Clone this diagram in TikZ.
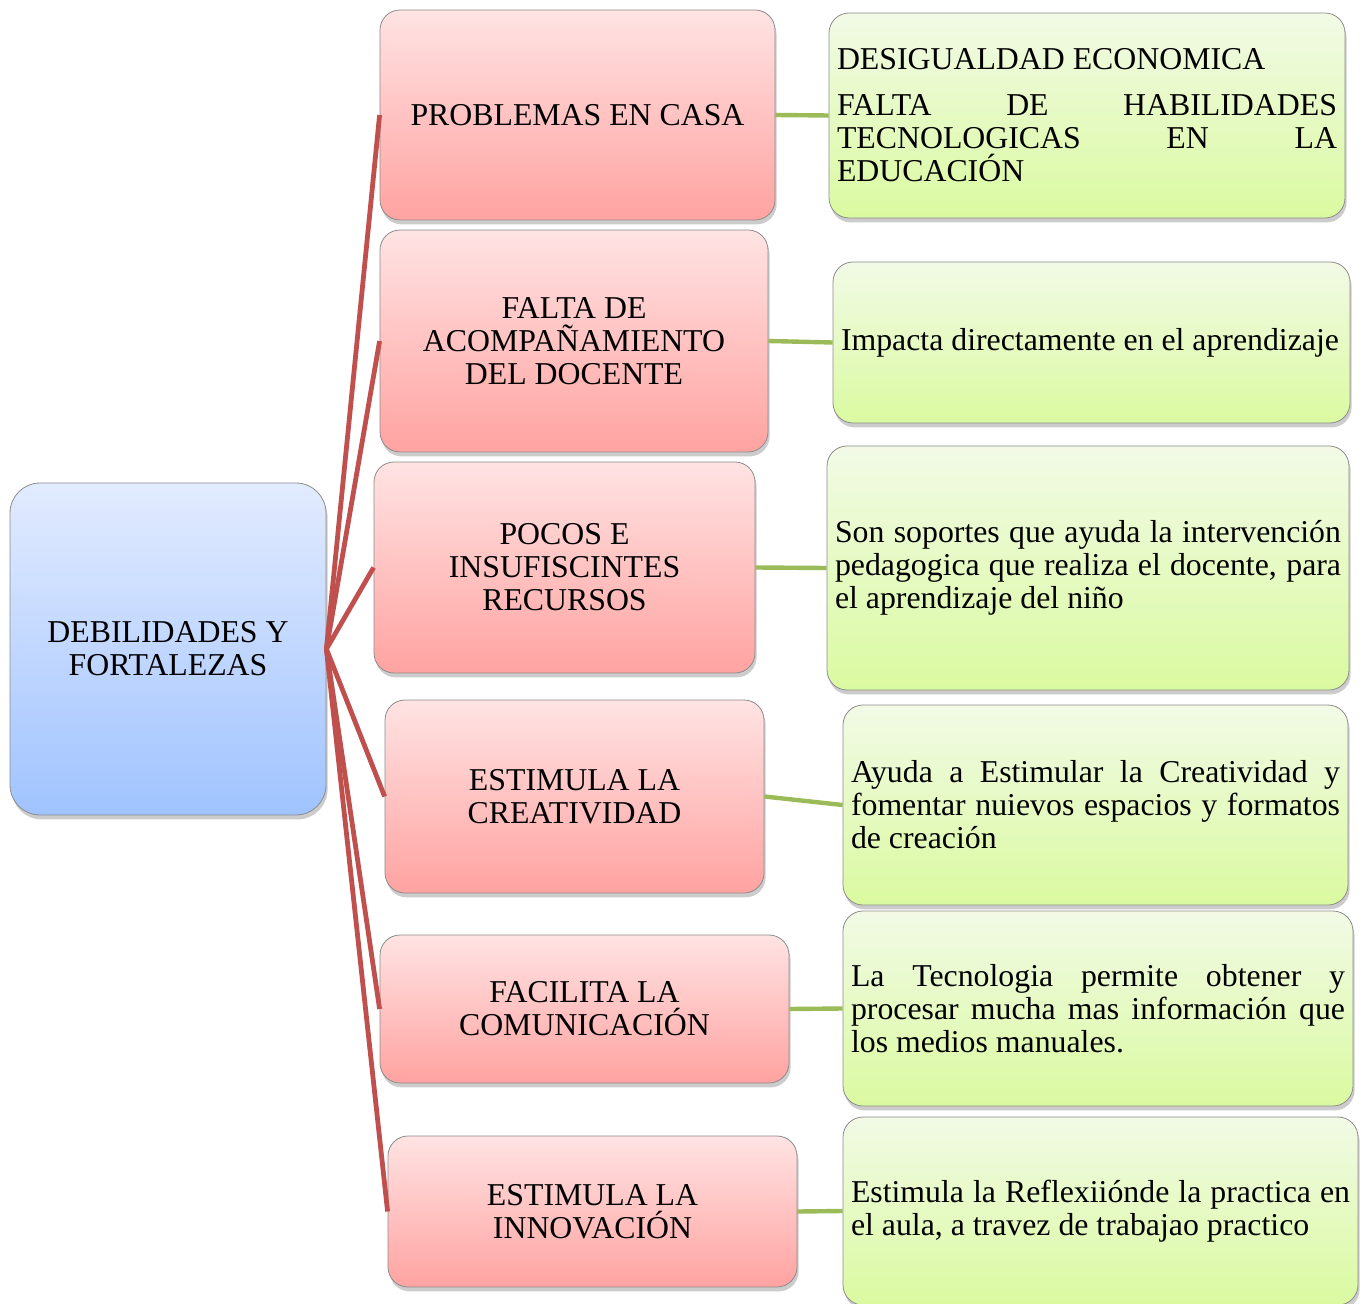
\documentclass[tikz,border=0pt]{standalone}
\usepackage{fontspec}
\setmainfont{Liberation Serif}
\usetikzlibrary{shadows}
\definecolor{rama}{RGB}{192,80,77}
\definecolor{hoja}{RGB}{155,187,89}
\hbadness=10000 \hfuzz=2pt

\begin{document}
\begin{tikzpicture}[x=0.5pt,y=-0.5pt,
    caja/.style={draw=gray!90,thin,rounded corners=10pt,
      drop shadow={shadow xshift=0.8pt,shadow yshift=-2.2pt,opacity=0.4},
      font=\fontsize{15.9pt}{16.5pt}\selectfont,inner sep=0pt},
    raiz/.style={caja,rounded corners=15pt,top color={rgb,255:red,226;green,235;blue,255},bottom color={rgb,255:red,160;green,195;blue,255},align=center},
    tema/.style={caja,top color={rgb,255:red,255;green,227;blue,227},bottom color={rgb,255:red,255;green,163;blue,161},align=center},
    nota/.style={caja,top color={rgb,255:red,242;green,250;blue,230},bottom color={rgb,255:red,218;green,250;blue,160},align=justify,inner xsep=4pt}]
      \useasboundingbox (0,0) rectangle (1364,1304) ;
      % centro
      \node[raiz,minimum width=158pt,minimum height=166pt] (D) at (168,649) {DEBILIDADES Y\\FORTALEZAS} ;
      % temas
      \node[tema,minimum width=197.5pt,minimum height=105pt] (T1) at (577.5,115) {PROBLEMAS EN CASA} ;
      \node[tema,minimum width=194pt,minimum height=111pt] (T2) at (574,341) {FALTA DE\\ACOMPAÑAMIENTO\\DEL DOCENTE} ;
      \node[tema,minimum width=190.5pt,minimum height=105.5pt] (T3) at (564.5,567.5) {POCOS E\\INSUFISCINTES\\RECURSOS} ;
      \node[tema,minimum width=189.5pt,minimum height=96.5pt] (T4) at (574.5,796.5) {ESTIMULA LA\\CREATIVIDAD} ;
      \node[tema,minimum width=204.5pt,minimum height=74pt] (T5) at (584.5,1009) {FACILITA LA\\COMUNICACIÓN} ;
      \node[tema,minimum width=204.5pt,minimum height=75.5pt] (T6) at (592.5,1211.5) {ESTIMULA LA\\INNOVACIÓN} ;
      % notas
      \node[nota,text width=250pt,minimum height=102.5pt] (N1) at (1087,115.5)
        {DESIGUALDAD ECONOMICA\\[6.5pt]FALTA DE HABILIDADES\linebreak TECNOLOGICAS EN LA\linebreak EDUCACIÓN} ;
      \node[nota,text width=250.5pt,minimum height=80.5pt] (N2) at (1091.5,342.5)
        {Impacta directamente en el aprendizaje} ;
      \node[nota,text width=253pt,minimum height=122pt] (N3) at (1088,568)
        {Son soportes que ayuda la intervención\linebreak pedagogica que realiza el docente, para\linebreak el aprendizaje del niño} ;
      \node[nota,text width=244.5pt,minimum height=100pt] (N4) at (1095.5,805)
        {Ayuda a Estimular la Creatividad y\linebreak fomentar nuievos espacios y formatos\linebreak de creación} ;
      \node[nota,text width=247pt,minimum height=97.5pt] (N5) at (1098,1008.5)
        {La Tecnologia permite obtener y\linebreak procesar mucha mas información que\linebreak los medios manuales.} ;
      \node[nota,text width=249.5pt,minimum height=94pt] (N6) at (1100.5,1211)
        {Estimula la Reflexiiónde la practica en\linebreak el aula, a travez de trabajao practico} ;
      % ramas
      \foreach \i in {1,...,6} {
        \draw[rama,line width=2.4pt] (D.east) -- (T\i.west) ;
        \draw[hoja,line width=2.2pt] (T\i.east) -- (N\i.west) ;
      }
    \end{tikzpicture}
\end{document}
